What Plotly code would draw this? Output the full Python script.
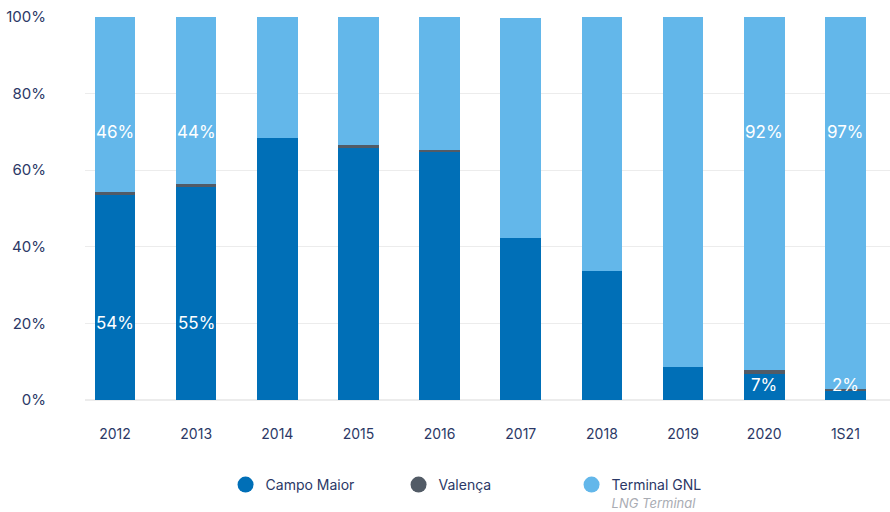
import plotly.graph_objects as go

# periods on the x axis
periods = ['2012', '2013', '2014', '2015', '2016', '2017', '2018', '2019', '2020', '1S21']

# share of each entry point (%)
campo_maior = [53.7, 55.6, 68.3, 66.0, 64.9, 42.4, 33.8, 8.6, 6.9, 2.4]
valenca = [0.5, 0.7, 0.0, 0.5, 0.5, 0.0, 0.0, 0.0, 0.9, 0.5]
terminal_gnl = [45.8, 43.7, 31.7, 33.5, 34.6, 57.3, 66.2, 91.4, 92.2, 97.1]

# rounded labels shown on some bars
label_periods = ['2012', '2013', '2020', '1S21']
label_low = [54, 55, 7, 2]
label_high = [46, 44, 92, 97]

series = [
    ('Campo Maior', campo_maior, '#006fb7'),
    ('Valença', valenca, '#525b66'),
    ("Terminal GNL<br><span style='color:#a9acb3;font-size:13px'><i>LNG Terminal</i></span>",
     terminal_gnl, '#63b7ea'),
]

navy = '#2b3866'
font_family = 'Inter, Roboto, sans-serif'

fig = go.Figure()
for name, vals, color in series:
    fig.add_trace(go.Bar(x=periods, y=vals, name=name, marker_color=color,
                         marker_line_width=0, showlegend=False))
# round legend markers
for name, vals, color in series:
    fig.add_trace(go.Scatter(x=[None], y=[None], mode='markers', name=name,
                             marker=dict(symbol='circle', size=16, color=color)))

# value labels (white, inside bars)
for p, lo, hi in zip(label_periods, label_low, label_high):
    i = periods.index(p)
    fig.add_annotation(x=i, y=20 if lo > 20 else 4, text=f'{lo}%', showarrow=False,
                       font=dict(color='white', size=17, family=font_family))
    fig.add_annotation(x=i, y=70, text=f'{hi}%', showarrow=False,
                       font=dict(color='white', size=17, family=font_family))

fig.update_layout(
    barmode='stack',
    bargap=0.5,
    width=890, height=512,
    margin=dict(l=85, r=0, t=17, b=112),
    plot_bgcolor='white', paper_bgcolor='white',
    font=dict(family=font_family, color=navy, size=14),
    legend=dict(orientation='h', xref='container', yref='container',
                x=0.545, xanchor='center', y=0.084, yanchor='top',
                valign='top', traceorder='normal', font=dict(size=14, color=navy),
                entrywidth=128, itemwidth=30),
    xaxis=dict(type='category', range=[-0.37, 9.55], showgrid=False, automargin=False,
               ticklabelstandoff=24, tickfont=dict(size=14, color=navy)),
    yaxis=dict(range=[0, 100], dtick=20, ticksuffix='%', gridcolor='#ececec',
               zeroline=True, zerolinecolor='#ececec', ticklabelstandoff=38,
               automargin=False, tickfont=dict(size=15, color=navy)),
)

# drop the default body margin so the chart sits at the page corner
fig.write_html('out.html', config={'displayModeBar': False},
               post_script="document.body.style.margin='0';")
